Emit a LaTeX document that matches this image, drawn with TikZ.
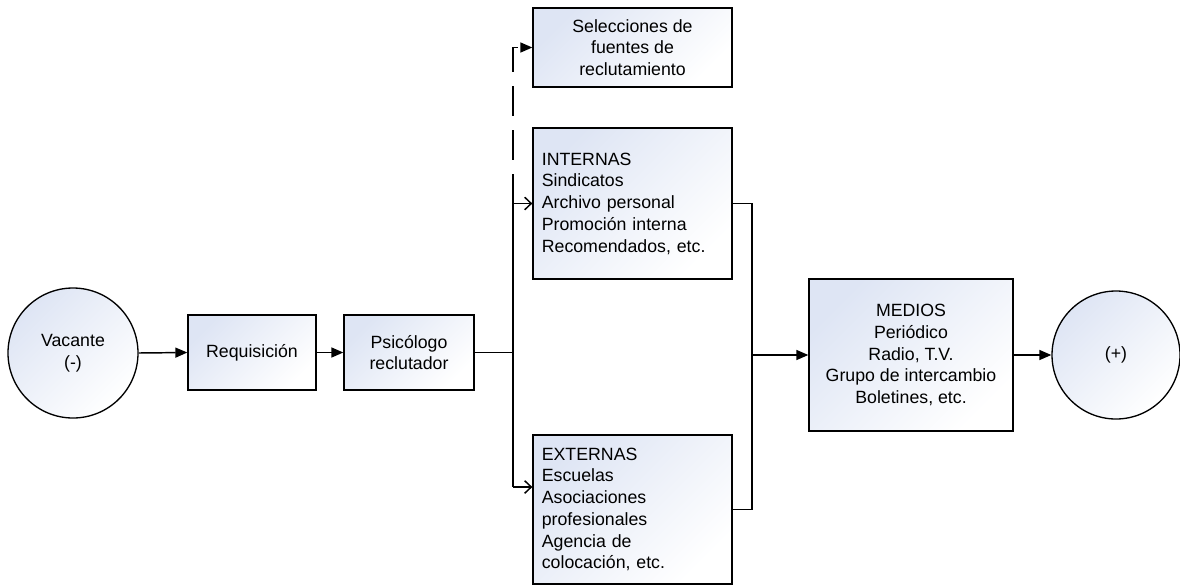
\documentclass[tikz,border=0pt]{standalone}
\usepackage{fontspec}
\setmainfont{Liberation Sans}
\usetikzlibrary{arrows.meta}
\definecolor{boxtint}{RGB}{222,229,244}
\tikzset{
  every node/.style={font=\fontsize{13.3pt}{16.3pt}\selectfont},
  shaded/.style={draw=black, line width=1pt, top color=boxtint, bottom color=white, shading angle=45},
  box/.style={shaded, rectangle, inner sep=0pt, align=center},
  leftbox/.style={shaded, rectangle, inner sep=0pt, align=left},
  roundnode/.style={shaded, circle, inner sep=0pt, align=center},
  wire/.style={line width=1.1pt},
  arr/.style={wire, -{Triangle[length=9pt,width=7.5pt]}},
  openarr/.style={wire, -{Straight Barb[length=5pt,width=9.5pt]}},
  dasharr/.style={arr, dash pattern=on 22pt off 11pt}
}
\begin{document}
\begin{tikzpicture}[x=0.75pt,y=-0.75pt]
\useasboundingbox (0,0) rectangle (1180,586);

% main chain
\node[roundnode, minimum size=97.5pt] (vac) at (73,353) {Vacante\\(-)};
\node[box, minimum width=96pt, minimum height=56.25pt] (req) at (252,352.5) {Requisición};
\node[box, minimum width=97.5pt, minimum height=56.25pt] (psi) at (409,352.5) {Psicólogo\\reclutador};

% recruitment sources
\node[box, minimum width=149.25pt, minimum height=59.25pt] (sel) at (632.5,47.5) {Selecciones de\\fuentes de\\reclutamiento};
\node[leftbox, minimum width=149.25pt, minimum height=113.25pt, text width=136pt] (int) at (632.5,203.5)
  {INTERNAS\\Sindicatos\\Archivo personal\\Promoción interna\\Recomendados, etc.};
\node[leftbox, minimum width=149.25pt, minimum height=111.75pt, text width=136pt] (ext) at (632.5,509.5)
  {EXTERNAS\\Escuelas\\Asociaciones\\profesionales\\Agencia de\\colocación, etc.};

% media and result
\node[box, minimum width=153pt, minimum height=114pt] (med) at (911,355)
  {MEDIOS\\Periódico\\Radio, T.V.\\Grupo de intercambio\\Boletines, etc.};
\node[roundnode, minimum size=96pt] (plus) at (1116,355) {(+)};

% branch points
\coordinate (tm) at (513,352.5);
\coordinate (ti) at (513,203.5);
\coordinate (te) at (513,487);
\coordinate (rj) at (752,355);

% connectors
\draw[arr] (vac.east) -- (req.west);
\draw[arr] (req.east) -- (psi.west);
\draw[wire] (psi.east) -- (tm);
\draw[wire] (ti) -- (te);
\draw[openarr] (ti) -- (int.west);
\draw[openarr] (te) -- (te -| ext.west);
\draw[dasharr] (ti) |- (sel.west);
\draw[wire] (int.east) -| (rj) |- (ext.east);
\draw[arr] (rj) -- (med.west);
\draw[arr] (med.east) -- (plus.west);
\end{tikzpicture}
\end{document}
